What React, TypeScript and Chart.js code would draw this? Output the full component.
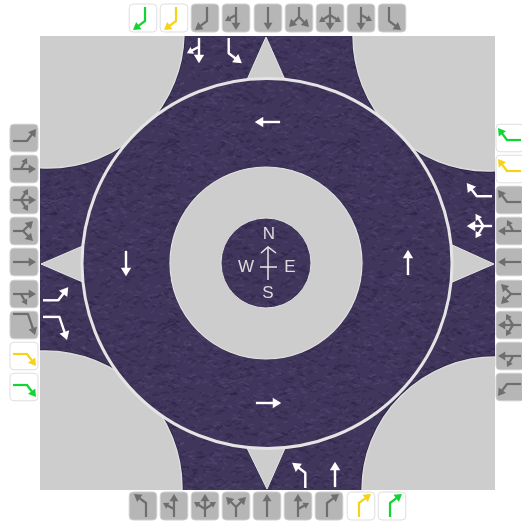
import React, { useEffect, useRef } from "react";
import { Chart, registerables } from "chart.js";

Chart.register(...registerables);

// ---- named data ----
const topMoves = ["R", "R", "R", "TR", "T", "LR", "LTR", "LT", "L"];
const topTints = ["green", "yellow", "gray", "gray", "gray", "gray", "gray", "gray", "gray"];
const topX = [143, 174, 205, 236, 268, 299, 330, 361, 392];
const topY = [18, 18, 18, 18, 18, 18, 18, 18, 18];

const bottomMoves = ["L", "LT", "LTR", "LR", "T", "TR", "R", "R", "R"];
const bottomTints = ["gray", "gray", "gray", "gray", "gray", "gray", "gray", "yellow", "green"];
const bottomX = [143, 174, 205, 236, 267, 298, 329, 361, 392];
const bottomY = [506, 506, 506, 506, 506, 506, 506, 506, 506];

const leftMoves = ["L", "LT", "LTR", "LR", "T", "TR", "Rlong", "R", "R"];
const leftTints = ["gray", "gray", "gray", "gray", "gray", "gray", "gray", "yellow", "green"];
const leftX = [24, 24, 24, 24, 24, 24, 24, 24, 24];
const leftY = [138, 169, 200, 231, 262, 294, 325, 356, 387];

const rightMoves = ["R", "R", "R", "TR", "T", "LR", "LTR", "LT", "L"];
const rightTints = ["green", "yellow", "gray", "gray", "gray", "gray", "gray", "gray", "gray"];
const rightX = [510, 510, 510, 510, 510, 510, 510, 510, 510];
const rightY = [138, 169, 200, 231, 262, 294, 325, 356, 387];

const laneMoves = ["TR", "L", "L", "T", "L", "Rlong", "R", "LTR", "T", "T", "T", "T"];
const laneX = [199, 232, 302, 335, 55, 55, 480, 480, 268, 408, 268, 126];
const laneY = [50, 50, 476, 475, 297, 329, 194, 226, 122, 263, 403, 263];
const laneRotation = [180, 180, 0, 0, 90, 90, -90, -90, -90, 0, 90, 180];

const cornerX = [48, 488, 45, 495];
const cornerY = [32, 36, 488, 490];
const cornerR = [136, 135, 137, 133];

const mapX = [40, 495, 495, 40, 40];
const mapY = [36, 36, 490, 490, 36];

const splitterTopX = [266, 286, 246, 266];
const splitterTopY = [37, 82, 82, 37];
const splitterBottomX = [267, 286, 246, 267];
const splitterBottomY = [489, 446, 446, 489];
const splitterLeftX = [41, 85, 85, 41];
const splitterLeftY = [264, 245, 283, 264];
const splitterRightX = [494, 450, 450, 494];
const splitterRightY = [264, 244, 283, 264];

const ringX = [267];
const ringY = [263.5];
const ringR = [185];
const islandX = [266];
const islandY = [263];
const islandR = [96];
const hubX = [266];
const hubY = [263];
const hubR = [45];

const crossVX = [268, 268];
const crossVY = [247, 280];
const crossHX = [260, 277];
const crossHY = [267, 267];
const crossHeadX = [261, 268, 276];
const crossHeadY = [253, 247, 253];

const compassLabels = ["N", "W", "E", "S"];
const compassX = [269, 246, 290, 268];
const compassY = [234, 267, 267, 293];

// ---- styles ----
const GREY = "#cdcdcd";
const RIM = "#e6e6e6";
const tintColor: Record<string, string> = { green: "#12d435", yellow: "#f6d21a", gray: "#6e6e6e" };

type P = [number, number];

const shapes: Record<string, P[][]> = {
  T: [[[0, 11], [0, -12]]],
  L: [[[3, 11], [3, -3], [-9, -12]]],
  R: [[[-2, 11], [-2, -3], [10, -12]]],
  Rlong: [[[-11, 11], [-11, -4], [10, -11]]],
  LT: [[[0, 11], [0, -12]], [[0, 3], [-11, -3]]],
  TR: [[[0, 11], [0, -12]], [[0, 3], [11, -3]]],
  LTR: [[[0, 11], [0, -12]], [[0, 3], [-11, -4]], [[0, 3], [11, -4]]],
  LR: [[[0, 11], [0, 1], [-10, -9]], [[0, 1], [10, -9]]],
};

function drawArrow(ctx: CanvasRenderingContext2D, pts: P[], color: string, lw: number, head: number) {
  const n = pts.length;
  const [tx, ty] = pts[n - 1];
  const [px, py] = pts[n - 2];
  const a = Math.atan2(ty - py, tx - px);
  const bx = tx - Math.cos(a) * head * 0.8;
  const by = ty - Math.sin(a) * head * 0.8;
  ctx.strokeStyle = color;
  ctx.fillStyle = color;
  ctx.lineWidth = lw;
  ctx.lineJoin = "round";
  ctx.beginPath();
  ctx.moveTo(pts[0][0], pts[0][1]);
  for (let i = 1; i < n - 1; i++) ctx.lineTo(pts[i][0], pts[i][1]);
  ctx.lineTo(bx, by);
  ctx.stroke();
  ctx.beginPath();
  ctx.moveTo(tx, ty);
  ctx.lineTo(tx - Math.cos(a - 0.55) * head, ty - Math.sin(a - 0.55) * head);
  ctx.lineTo(tx - Math.cos(a + 0.55) * head, ty - Math.sin(a + 0.55) * head);
  ctx.closePath();
  ctx.fill();
}

function makeButton(move: string, tint: string): HTMLCanvasElement {
  const c = document.createElement("canvas");
  c.width = 30;
  c.height = 30;
  const ctx = c.getContext("2d")!;
  ctx.beginPath();
  ctx.roundRect(1.2, 1, 27.6, 28, 4);
  ctx.fillStyle = tint === "gray" ? "#b6b6b6" : "#ffffff";
  ctx.fill();
  ctx.strokeStyle = tint === "gray" ? "#cfcfcf" : "#dedede";
  ctx.lineWidth = 1;
  ctx.stroke();
  ctx.translate(15, 15);
  for (const path of shapes[move]) drawArrow(ctx, path, tintColor[tint], 2.2, path[0][1] === 3 ? 6.5 : 8.5);
  return c;
}

function makeLane(move: string): HTMLCanvasElement {
  const c = document.createElement("canvas");
  c.width = 36;
  c.height = 36;
  const ctx = c.getContext("2d")!;
  ctx.translate(18, 18);
  ctx.scale(1.1, 1.1);
  for (const path of shapes[move]) drawArrow(ctx, path, "#ffffff", 2.2, path[0][1] === 3 ? 6.5 : 9);
  return c;
}

function makeAsphalt(ctx: CanvasRenderingContext2D): CanvasPattern {
  const c = document.createElement("canvas");
  c.width = 180;
  c.height = 180;
  const g = c.getContext("2d")!;
  g.fillStyle = "#40365c";
  g.fillRect(0, 0, 180, 180);
  let seed = 12345;
  const next = () => {
    seed = (seed * 1103515245 + 12345) & 0x7fffffff;
    return seed / 0x7fffffff;
  };
  g.lineWidth = 1.6;
  g.lineCap = "round";
  for (let i = 0; i < 1300; i++) {
    const x = next() * 180;
    const y = next() * 180;
    const len = 1.5 + next() * 4;
    const tilt = (next() - 0.5) * 5;
    g.strokeStyle = next() > 0.5 ? "rgba(92,80,120,0.32)" : "rgba(40,32,62,0.38)";
    g.beginPath();
    g.moveTo(x, y);
    g.lineTo(x + len, y + tilt);
    g.stroke();
  }
  return ctx.createPattern(c, "repeat")!;
}

const zip = (xs: number[], ys: number[]) => xs.map((x, i) => ({ x, y: ys[i] }));

const compassPlugin = {
  id: "compassText",
  afterDatasetsDraw(chart: any) {
    const { ctx, scales } = chart;
    ctx.save();
    ctx.font = '17px "Liberation Sans"';
    ctx.fillStyle = "#dcdcdc";
    ctx.textAlign = "center";
    ctx.textBaseline = "middle";
    compassLabels.forEach((t, i) => {
      ctx.fillText(t, scales.x.getPixelForValue(compassX[i]), scales.y.getPixelForValue(compassY[i]));
    });
    ctx.restore();
  },
};

export default function App() {
  const ref = useRef<HTMLCanvasElement>(null);
  useEffect(() => {
    const canvas = ref.current!;
    const ctx = canvas.getContext("2d")!;
    const asphalt = makeAsphalt(ctx);

    const polygon = (xs: number[], ys: number[], fill: any, border: string, bw = 0) => ({
      data: zip(xs, ys),
      showLine: true,
      fill: "shape",
      backgroundColor: fill,
      borderColor: border,
      borderWidth: bw,
      pointRadius: 0,
      tension: 0,
    });
    const circles = (xs: number[], ys: number[], rs: number[], fill: any, border: string, bw: number, extra: object = {}) => ({
      data: zip(xs, ys),
      showLine: false,
      pointStyle: "circle",
      pointRadius: rs,
      pointBackgroundColor: fill,
      pointBorderColor: border,
      pointBorderWidth: bw,
      ...extra,
    });
    const line = (xs: number[], ys: number[], color: string, bw: number) => ({
      data: zip(xs, ys),
      showLine: true,
      fill: false,
      borderColor: color,
      borderWidth: bw,
      pointRadius: 0,
      tension: 0,
    });
    const buttons = (moves: string[], tints: string[], xs: number[], ys: number[], rot: number) => ({
      data: zip(xs, ys),
      showLine: false,
      pointStyle: moves.map((m, i) => makeButton(m, tints[i])),
      pointRotation: rot,
      pointRadius: 15,
      clip: false,
    });
    const mapClip = { left: -40, top: -36, right: -27, bottom: -35 };

    // listed from bottom layer to top layer
    const layers: any[] = [
      polygon(mapX, mapY, asphalt, "rgba(0,0,0,0)"),
      circles(cornerX, cornerY, cornerR.map((r) => r + 1.5), "#2a2342", "#2a2342", 0, { clip: mapClip }),
      circles(cornerX, cornerY, cornerR, GREY, "#dcdcdc", 1.5, { clip: mapClip }),
      polygon(splitterTopX, splitterTopY, GREY, RIM, 1),
      polygon(splitterBottomX, splitterBottomY, GREY, RIM, 1),
      polygon(splitterLeftX, splitterLeftY, GREY, RIM, 1),
      polygon(splitterRightX, splitterRightY, GREY, RIM, 1),
      circles(ringX, ringY, ringR, asphalt, "#e4e4e4", 3),
      circles(islandX, islandY, islandR, GREY, "#e2e2e2", 1.2),
      circles(hubX, hubY, hubR, asphalt, "#e2e2e2", 1),
      line(crossVX, crossVY, "#e8e8e8", 1.5),
      line(crossHX, crossHY, "#e8e8e8", 1.5),
      line(crossHeadX, crossHeadY, "#e8e8e8", 1.5),
      {
        data: zip(laneX, laneY),
        showLine: false,
        pointStyle: laneMoves.map((m) => makeLane(m)),
        pointRotation: laneRotation,
        pointRadius: 18,
      },
      buttons(topMoves, topTints, topX, topY, 180),
      buttons(bottomMoves, bottomTints, bottomX, bottomY, 0),
      buttons(leftMoves, leftTints, leftX, leftY, 90),
      buttons(rightMoves, rightTints, rightX, rightY, -90),
    ];

    const chart = new Chart(canvas, {
      type: "line",
      data: { datasets: layers.slice().reverse() },
      options: {
        responsive: false,
        animation: false,
        events: [],
        layout: { padding: 0, autoPadding: false },
        plugins: { legend: { display: false }, tooltip: { enabled: false } },
        scales: {
          x: { type: "linear", min: 0, max: 522, display: false },
          y: { type: "linear", min: 0, max: 525, reverse: true, display: false },
        },
      },
      plugins: [compassPlugin],
    } as any);
    return () => chart.destroy();
  }, []);

  return (
    <canvas
      ref={ref}
      width={522}
      height={525}
      style={{ position: "absolute", left: 0, top: 0, display: "block", width: 522, height: 525, filter: "blur(0.4px)" }}
    />
  );
}
